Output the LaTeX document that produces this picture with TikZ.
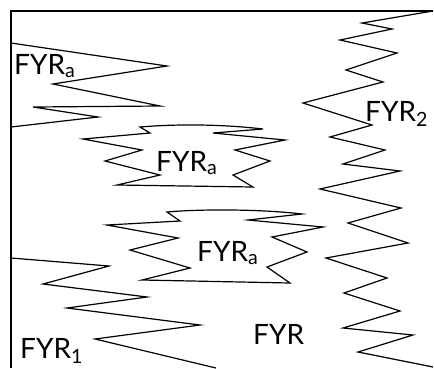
\documentclass[tikz,border=0pt]{standalone}
\usepackage{fontspec}
\setmainfont{Lato}
\tikzset{
  lbl/.style={inner sep=0pt, anchor=base west, font=\fontsize{28}{30}\selectfont},
  zig/.style={line width=1.2pt, line join=miter}
}
\begin{document}
\begin{tikzpicture}[x=1pt, y=-1pt]
  \useasboundingbox (0,0) rectangle (434,368);
  % מסגרת
  \draw[zig] (11,368) -- (11,11) -- (433,11);

  % אזור FYRa עליון
  \draw[zig] (11,43) -- (167,66) -- (53,84) -- (160,106) -- (33,107) -- (98,117) -- (11,127);
  \node[lbl] (fyrTop) at (14,74) {FYR\textsubscript{a}};

  % אזור FYRa אמצעי
  \draw[zig] (140,127) -- (150,133) -- (83,139) -- (142,150) -- (105,161) -- (160,175)
    -- (117,185) -- (253,187) -- (233,175) -- (270,161) -- (235,150) -- (285,140)
    -- (213,133) -- (263,129) .. controls (220,124) and (175,124) .. cycle;
  \node[lbl] (fyrMid) at (156,171) {FYR\textsubscript{a}};

  % אזור FYRa תחתון
  \draw[zig] (167,212) -- (180,221) -- (107,225) -- (178,238) -- (130,250) -- (190,268)
    -- (142,280) -- (290,283) -- (267,267) -- (307,252) -- (272,237) -- (323,227)
    -- (248,220) -- (302,214) .. controls (260,209) and (200,209) .. cycle;
  \node[lbl] (fyrLow) at (197,261) {FYR\textsubscript{a}};

  % גבול FYR1
  \draw[zig] (11,258) -- (109,266) -- (43,284) -- (147,297) -- (67,308) -- (200,325)
    -- (95,339) -- (216,368);
  \node[lbl] (fyrOne) at (20,358) {FYR\textsubscript{1}};

  % גבול FYR2
  \draw[zig] (433,11) -- (362,23) -- (392,29) -- (340,40) -- (397,53) -- (346,70)
    -- (383,82) -- (303,103) -- (372,125) -- (330,137) -- (385,150) -- (343,164)
    -- (400,171) -- (320,189) -- (401,208) -- (348,223) -- (408,243) -- (326,258)
    -- (387,278) -- (344,293) -- (400,311) -- (343,328) -- (413,335) -- (358,352)
    -- (433,367);
  \node[lbl] (fyrTwo) at (365,121) {FYR\textsubscript{2}};

  \node[lbl] (fyrMain) at (253,344) {FYR};
\end{tikzpicture}
\end{document}
